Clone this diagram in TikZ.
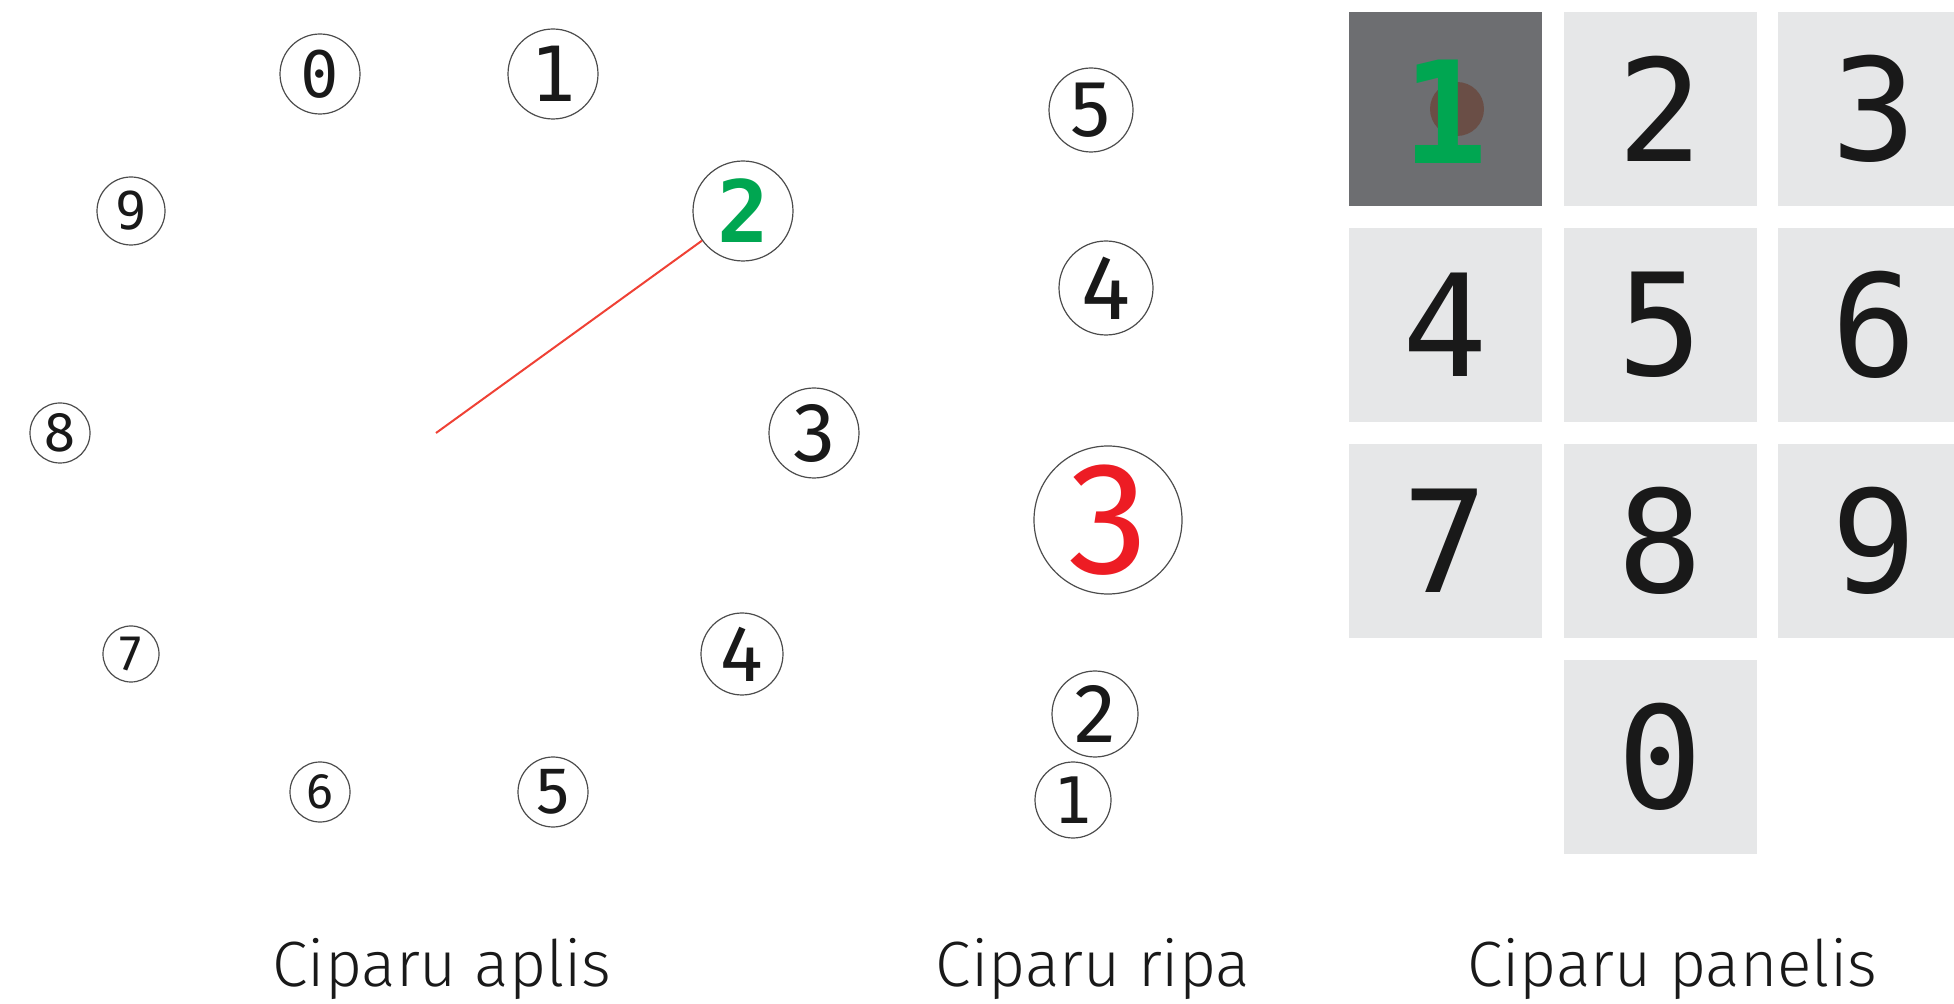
\documentclass[tikz,border=0pt]{standalone}
\usepackage{fontspec}
\newfontfamily\monofont{DejaVu Sans Mono}
\newfontfamily\sansdig{Fira Sans}
\newfontfamily\capfont{Fira Sans}[UprightFont={* Light}]
\definecolor{dgreen}{RGB}{0,166,81}
\definecolor{lred}{RGB}{239,65,53}
\definecolor{dred}{RGB}{237,28,36}
\definecolor{keylight}{RGB}{230,231,232}
\definecolor{keydark}{RGB}{109,110,113}
\definecolor{dotbrown}{RGB}{106,78,70}
\newcommand{\fs}[1]{\fontsize{#1}{#1}\selectfont}
\tikzset{
  digcirc/.style={circle, draw=black!70, line width=0.6pt, inner sep=0pt, text=black!90},
  keybox/.style={rectangle, minimum width=96.5pt, minimum height=97pt, inner sep=0pt, fill=keylight, text=black!90, font=\monofont\fs{71}},
  captext/.style={anchor=base, font=\capfont\fs{32}, text=black!90}
}
\begin{document}
\begin{tikzpicture}[x=0.5pt, y=-0.5pt]
\useasboundingbox (0,0) rectangle (1954,1004);
% dial
\node[digcirc, minimum size=40pt, font=\monofont\fs{32}] (d0) at (320,74) {0};
\node[digcirc, minimum size=45pt, font=\monofont\fs{38}] (d1) at (553,74) {1};
\node[digcirc, minimum size=50pt, font=\monofont\bfseries\fs{43}, text=dgreen] (d2) at (743,211) {2};
\node[digcirc, minimum size=45pt, font=\sansdig\fs{42}] (d3) at (814,433) {3};
\node[digcirc, minimum size=41pt, font=\sansdig\fs{40}] (d4) at (742,654) {4};
\node[digcirc, minimum size=35pt, font=\sansdig\fs{33}] (d5) at (553,792) {5};
\node[digcirc, minimum size=30pt, font=\sansdig\fs{25}] (d6) at (320,792) {6};
\node[digcirc, minimum size=28pt, font=\sansdig\fs{25}] (d7) at (131,654) {7};
\node[digcirc, minimum size=30pt, font=\sansdig\fs{28}] (d8) at (60,433) {8};
\node[digcirc, minimum size=34pt, font=\monofont\fs{26}] (d9) at (131,211) {9};
\coordinate (hub) at (436,433);
\draw[lred, line width=1pt] (hub) -- (d2);
% ripa
\node[digcirc, minimum size=42pt, font=\sansdig\fs{40}] (r5) at (1091,110) {5};
\node[digcirc, minimum size=47pt, font=\sansdig\fs{46}] (r4) at (1106,288) {4};
\node[digcirc, minimum size=74pt, font=\sansdig\fs{80}, text=dred] (r3) at (1108,520) {3};
\node[digcirc, minimum size=43pt, font=\sansdig\fs{42}] (r2) at (1095,714) {2};
\node[digcirc, minimum size=38pt, font=\monofont\fs{32}] (r1) at (1073,800) {1};
% keypad
\node[keybox, fill=keydark] (k1) at (1445.5,109) {};
\node[circle, fill=dotbrown, minimum size=27pt, inner sep=0pt] (kdot) at (1457,109) {};
\node[font=\monofont\bfseries\fs{71}, text=dgreen, inner sep=0pt] (kone) at (1445,112) {1};
\node[keybox] (k2) at (1660.5,109) {2};
\node[keybox] (k3) at (1874.5,109) {3};
\node[keybox] (k4) at (1445.5,325) {4};
\node[keybox] (k5) at (1660.5,325) {5};
\node[keybox] (k6) at (1874.5,325) {6};
\node[keybox] (k7) at (1445.5,541) {7};
\node[keybox] (k8) at (1660.5,541) {8};
\node[keybox] (k9) at (1874.5,541) {9};
\node[keybox] (k0) at (1660.5,757) {0};
% captions
\node[captext] (c1) at (442,986) {Ciparu aplis};
\node[captext] (c2) at (1093,986) {Ciparu ripa};
\node[captext] (c3) at (1672,986) {Ciparu panelis};
\end{tikzpicture}
\end{document}
